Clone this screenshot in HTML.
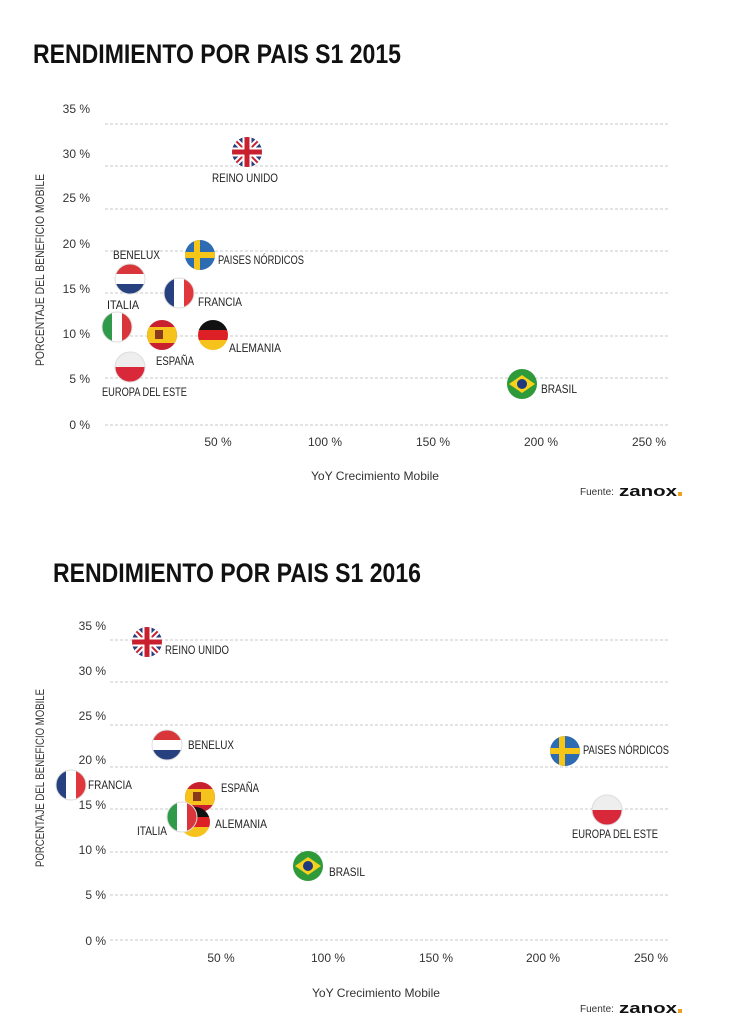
<!DOCTYPE html>
<html><head><meta charset="utf-8"><style>
html,body{margin:0;padding:0;background:#fff}
svg{display:block}
text{font-family:"Liberation Sans",sans-serif}
.t{font-weight:bold;font-size:27px;fill:#111}
.ax{font-size:12px;fill:#333}
.lb{font-size:12px;fill:#222}
.g{stroke:#c8c8c8;stroke-width:1;stroke-dasharray:3,2}
</style></head><body>
<svg width="736" height="1016" viewBox="0 0 736 1016" xmlns="http://www.w3.org/2000/svg">
<defs>
<clipPath id="c"><circle cx="0" cy="0" r="15"/></clipPath>
<g id="uk"><g clip-path="url(#c)"><rect x="-15" y="-15" width="30" height="30" fill="#2b3d7c"/><path d="M-15-15L15 15M15-15L-15 15" stroke="#fff" stroke-width="6"/><path d="M-15-15L15 15M15-15L-15 15" stroke="#c8202f" stroke-width="2"/><path d="M0-15V15M-15 0H15" stroke="#fff" stroke-width="9"/><path d="M0-15V15M-15 0H15" stroke="#c8202f" stroke-width="5"/></g></g>
<g id="se"><g clip-path="url(#c)"><rect x="-15" y="-15" width="30" height="30" fill="#2d6bb3"/><path d="M-3-15V15M-15 0H15" stroke="#f5c518" stroke-width="6"/></g></g>
<g id="nl"><g clip-path="url(#c)"><rect x="-15" y="-15" width="30" height="10" fill="#d8363a"/><rect x="-15" y="-5" width="30" height="10" fill="#fff"/><rect x="-15" y="5" width="30" height="10" fill="#27407f"/></g><circle r="15" fill="none" stroke="#ddd"/></g>
<g id="fr"><g clip-path="url(#c)"><rect x="-15" y="-15" width="10" height="30" fill="#27407f"/><rect x="-5" y="-15" width="10" height="30" fill="#fff"/><rect x="5" y="-15" width="10" height="30" fill="#e0373d"/></g><circle r="15" fill="none" stroke="#ddd"/></g>
<g id="it"><g clip-path="url(#c)"><rect x="-15" y="-15" width="10" height="30" fill="#2f9a4a"/><rect x="-5" y="-15" width="10" height="30" fill="#fff"/><rect x="5" y="-15" width="10" height="30" fill="#d8363a"/></g><circle r="15" fill="none" stroke="#ddd"/></g>
<g id="es"><g clip-path="url(#c)"><rect x="-15" y="-15" width="30" height="30" fill="#c8202f"/><rect x="-15" y="-8" width="30" height="16" fill="#f6c21c"/><rect x="-7" y="-5" width="8" height="9" fill="#8a3a1a"/></g></g>
<g id="de"><g clip-path="url(#c)"><rect x="-15" y="-15" width="30" height="10" fill="#111"/><rect x="-15" y="-5" width="30" height="10" fill="#dd1f26"/><rect x="-15" y="5" width="30" height="10" fill="#f6c21c"/></g></g>
<g id="pl"><g clip-path="url(#c)"><rect x="-15" y="-15" width="30" height="15" fill="#eee"/><rect x="-15" y="0" width="30" height="15" fill="#d8283a"/></g><circle r="15" fill="none" stroke="#ddd"/></g>
<g id="br"><g clip-path="url(#c)"><rect x="-15" y="-15" width="30" height="30" fill="#2f9a3a"/><path d="M-13 0L0-9L13 0L0 9Z" fill="#f6d21c"/><circle r="5" fill="#1f3a7f"/></g></g>
</defs>

<!-- Chart 1 -->
<text class="t" x="33" y="63" textLength="368" lengthAdjust="spacingAndGlyphs">RENDIMIENTO POR PAIS S1 2015</text>
<g class="g">
<line x1="105" x2="670" y1="124" y2="124"/><line x1="105" x2="670" y1="166" y2="166"/><line x1="105" x2="670" y1="209" y2="209"/><line x1="105" x2="670" y1="251" y2="251"/><line x1="105" x2="670" y1="293" y2="293"/><line x1="105" x2="670" y1="336" y2="336"/><line x1="105" x2="670" y1="378" y2="378"/><line x1="105" x2="670" y1="425" y2="425"/>
</g>
<g class="ax" text-anchor="end">
<text x="90" y="113">35 %</text><text x="90" y="158">30 %</text><text x="90" y="202">25 %</text><text x="90" y="248">20 %</text><text x="90" y="293">15 %</text><text x="90" y="338">10 %</text><text x="90" y="383">5 %</text><text x="90" y="429">0 %</text>
</g>
<g class="ax" text-anchor="middle">
<text x="218" y="446">50 %</text><text x="325" y="446">100 %</text><text x="433" y="446">150 %</text><text x="541" y="446">200 %</text><text x="649" y="446">250 %</text>
</g>
<text class="ax" transform="translate(44,270) rotate(-90)" text-anchor="middle" textLength="192" lengthAdjust="spacingAndGlyphs">PORCENTAJE DEL BENEFICIO MOBILE</text>
<text class="ax" x="375" y="480" text-anchor="middle" textLength="128" lengthAdjust="spacingAndGlyphs">YoY Crecimiento Mobile</text>
<text x="580" y="495" font-size="10" fill="#333">Fuente:</text><text x="619" y="496" font-size="15" font-weight="bold" fill="#111" textLength="58" lengthAdjust="spacingAndGlyphs">zanox</text><rect x="678" y="492" width="4" height="4" fill="#f0a020"/>

<use href="#uk" x="247" y="152"/><use href="#se" x="200" y="255"/><use href="#nl" x="130" y="279"/><use href="#fr" x="179" y="293"/><use href="#it" x="117" y="327"/><use href="#es" x="162" y="335"/><use href="#de" x="213" y="335"/><use href="#pl" x="130" y="367"/><use href="#br" x="522" y="384"/>
<g class="lb">
<text x="212" y="182" textLength="66" lengthAdjust="spacingAndGlyphs">REINO UNIDO</text>
<text x="113" y="259" textLength="47" lengthAdjust="spacingAndGlyphs">BENELUX</text>
<text x="218" y="264" textLength="86" lengthAdjust="spacingAndGlyphs">PAISES NÓRDICOS</text>
<text x="107" y="309" textLength="32" lengthAdjust="spacingAndGlyphs">ITALIA</text>
<text x="198" y="306" textLength="44" lengthAdjust="spacingAndGlyphs">FRANCIA</text>
<text x="229" y="352" textLength="52" lengthAdjust="spacingAndGlyphs">ALEMANIA</text>
<text x="156" y="365" textLength="38" lengthAdjust="spacingAndGlyphs">ESPAÑA</text>
<text x="102" y="396" textLength="85" lengthAdjust="spacingAndGlyphs">EUROPA DEL ESTE</text>
<text x="541" y="393" textLength="36" lengthAdjust="spacingAndGlyphs">BRASIL</text>
</g>

<!-- Chart 2 -->
<text class="t" x="53" y="582" textLength="368" lengthAdjust="spacingAndGlyphs">RENDIMIENTO POR PAIS S1 2016</text>
<g class="g">
<line x1="110" x2="670" y1="640" y2="640"/><line x1="110" x2="670" y1="682" y2="682"/><line x1="110" x2="670" y1="725" y2="725"/><line x1="110" x2="670" y1="767" y2="767"/><line x1="110" x2="670" y1="809" y2="809"/><line x1="110" x2="670" y1="852" y2="852"/><line x1="110" x2="670" y1="895" y2="895"/><line x1="110" x2="670" y1="940" y2="940"/>
</g>
<g class="ax" text-anchor="end">
<text x="106" y="630">35 %</text><text x="106" y="675">30 %</text><text x="106" y="720">25 %</text><text x="106" y="764">20 %</text><text x="106" y="809">15 %</text><text x="106" y="854">10 %</text><text x="106" y="899">5 %</text><text x="106" y="945">0 %</text>
</g>
<g class="ax" text-anchor="middle">
<text x="221" y="962">50 %</text><text x="328" y="962">100 %</text><text x="436" y="962">150 %</text><text x="543" y="962">200 %</text><text x="651" y="962">250 %</text>
</g>
<text class="ax" transform="translate(44,778) rotate(-90)" text-anchor="middle" textLength="178" lengthAdjust="spacingAndGlyphs">PORCENTAJE DEL BENEFICIO MOBILE</text>
<text class="ax" x="376" y="997" text-anchor="middle" textLength="128" lengthAdjust="spacingAndGlyphs">YoY Crecimiento Mobile</text>
<text x="580" y="1012" font-size="10" fill="#333">Fuente:</text><text x="619" y="1013" font-size="15" font-weight="bold" fill="#111" textLength="58" lengthAdjust="spacingAndGlyphs">zanox</text><rect x="678" y="1009" width="4" height="4" fill="#f0a020"/>

<use href="#uk" x="147" y="642"/><use href="#nl" x="167" y="745"/><use href="#fr" x="71" y="785"/><use href="#es" x="200" y="797"/><use href="#de" x="195" y="822"/><use href="#it" x="182" y="817"/><use href="#br" x="308" y="866"/><use href="#se" x="565" y="751"/><use href="#pl" x="607" y="810"/>
<g class="lb">
<text x="165" y="654" textLength="64" lengthAdjust="spacingAndGlyphs">REINO UNIDO</text>
<text x="188" y="749" textLength="46" lengthAdjust="spacingAndGlyphs">BENELUX</text>
<text x="88" y="789" textLength="44" lengthAdjust="spacingAndGlyphs">FRANCIA</text>
<text x="221" y="792" textLength="38" lengthAdjust="spacingAndGlyphs">ESPAÑA</text>
<text x="215" y="828" textLength="52" lengthAdjust="spacingAndGlyphs">ALEMANIA</text>
<text x="137" y="835" textLength="30" lengthAdjust="spacingAndGlyphs">ITALIA</text>
<text x="329" y="876" textLength="36" lengthAdjust="spacingAndGlyphs">BRASIL</text>
<text x="583" y="754" textLength="86" lengthAdjust="spacingAndGlyphs">PAISES NÓRDICOS</text>
<text x="572" y="838" textLength="86" lengthAdjust="spacingAndGlyphs">EUROPA DEL ESTE</text>
</g>
</svg>
</body></html>
